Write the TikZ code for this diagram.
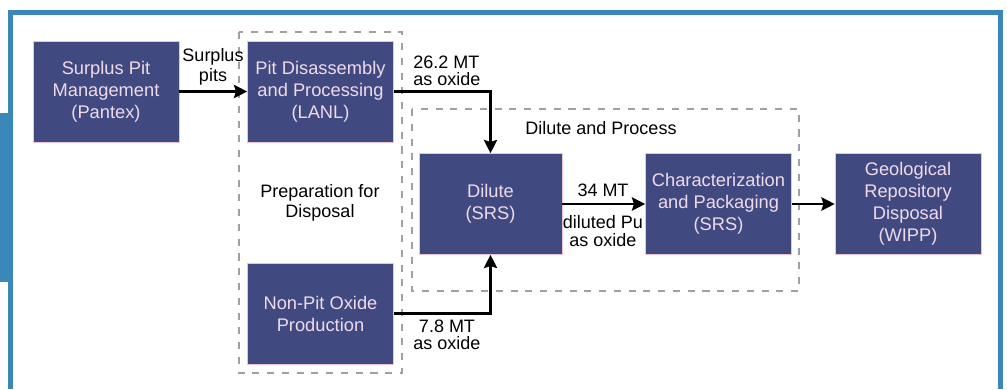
\documentclass[tikz,border=0pt]{standalone}
\usepackage{fontspec}
\setmainfont{Liberation Sans}
\usepackage{tikz}
\usetikzlibrary{arrows.meta}
\definecolor{facilityBlue}{RGB}{64,74,128}
\definecolor{facilityEdge}{RGB}{236,196,208}
\definecolor{facilityText}{RGB}{240,218,234}
\definecolor{panelBlue}{RGB}{58,135,185}
\definecolor{groupGrey}{RGB}{160,160,160}

\begin{document}
\begin{tikzpicture}[
  x=0.025cm, y=-0.025cm,
  facility/.style={draw=facilityEdge, line width=0.4pt, fill=facilityBlue,
    text=facilityText, minimum width=3.65cm, minimum height=2.525cm,
    inner sep=0pt, align=center, font=\fontsize{13}{15.6}\selectfont},
  flow/.style={line width=1.5pt, -{Stealth[length=9.5pt,width=9.5pt,inset=1.5pt]}},
  group/.style={draw=groupGrey, line width=1.3pt, dash pattern=on 5pt off 5.5pt},
  quantity/.style={inner sep=0pt, font=\fontsize{12.8}{12.4}\selectfont}
]
\useasboundingbox (0,0) rectangle (1007,389);
% panel frame
\fill[panelBlue] (0,113) rectangle (13,282);
\draw[panelBlue, line width=3.5pt] (10.5,389) -- (10.5,12.5) -- (1000.5,12.5) -- (1000.5,389);
% groupings
\draw[group] (239,32) rectangle (402,373);
\draw[group] (412,109) rectangle (799,291);
\node[quantity, align=center] (prepLabel) at (320,203) {Preparation for\\[2pt]Disposal};
\node[quantity] (diluteLabel) at (601,128) {Dilute and Process};
% facilities
\node[facility] (pantex) at (106,91.5) {Surplus Pit\\Management\\(Pantex)};
\node[facility] (lanl) at (320.5,91.5) {Pit Disassembly\\and Processing\\(LANL)};
\node[facility] (nonpit) at (320.5,313.5) {Non-Pit Oxide\\Production};
\node[facility, minimum width=3.575cm] (dilute) at (490.5,204) {Dilute\\(SRS)};
\node[facility] (packaging) at (718.5,204) {Characterization\\and Packaging\\(SRS)};
\node[facility] (wipp) at (908,204) {Geological\\Repository\\Disposal\\(WIPP)};
% flows
\draw[flow] (pantex) -- (lanl);
\draw[flow] (lanl.east) -| (dilute.north);
\draw[flow] (nonpit.east) -| (dilute.south);
\draw[flow] (dilute) -- (packaging);
\draw[flow] (packaging) -- (wipp);
\node[quantity, align=center, font=\fontsize{12.8}{14.2}\selectfont] (pitsLabel) at (213,67) {Surplus\\pits};
\node[quantity, align=left, anchor=west] (lanlQty) at (413,71) {26.2 MT\\as oxide};
\node[quantity] (dilutedQty) at (603,190) {34 MT};
\node[quantity, align=center] (dilutedForm) at (603,231) {diluted Pu\\as oxide};
\node[quantity, align=center] (nonpitQty) at (447,335) {7.8 MT\\as oxide};
\end{tikzpicture}
\end{document}
